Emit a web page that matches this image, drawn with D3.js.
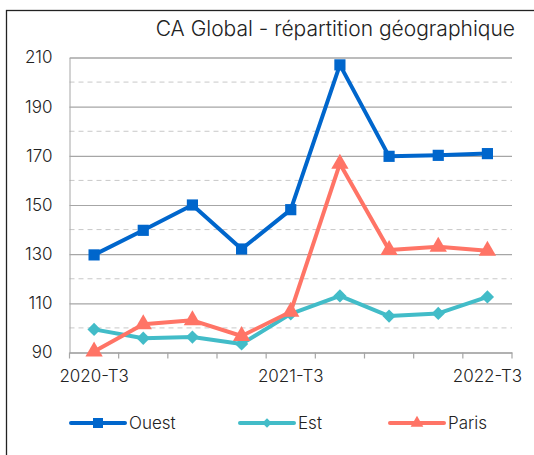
<!DOCTYPE html>
<html>
<head>
<meta charset="utf-8">
<script src="https://cdn.jsdelivr.net/npm/d3@7"></script>
<style>
  body { margin: 0; background: #fff; }
  text { font-family: Inter, "Noto Sans", sans-serif; fill: #222; font-weight: 300; }
</style>
</head>
<body>
<div id="chart"></div>
<script>
const quarters = ["2020-T3", "2020-T4", "2021-T1", "2021-T2", "2021-T3", "2021-T4", "2022-T1", "2022-T2", "2022-T3"];
const ouest = [129.7, 139.7, 150, 132.1, 148.1, 207, 169.8, 170.2, 170.9];
const est = [99.4, 95.8, 96.3, 93.5, 105.7, 113, 104.8, 105.9, 112.6];
const paris = [90.4, 101.5, 103.1, 96.7, 106.6, 166.8, 131.7, 133, 131.4];
const yTicks = [90, 110, 130, 150, 170, 190, 210];
const yMinor = [100, 120, 140, 160, 180, 200];
const xLabels = ["2020-T3", "2021-T3", "2022-T3"];

// diamond = square turned 45 degrees
const series = [
    { name: "Ouest", values: ouest, color: "#0066cc", symbol: d3.symbolSquare, rot: 0, size: 125, legSize: 100 },
    { name: "Est", values: est, color: "#42bcc8", symbol: d3.symbolSquare, rot: 45, size: 88, legSize: 45 },
    { name: "Paris", values: paris, color: "#ff7466", symbol: d3.symbolTriangle, rot: 0, size: 130, legSize: 70 }
];

const W = 534, H = 455;
const margin = { top: 57.5, right: 22, bottom: 102.5, left: 69.5 };
const width = W - margin.left - margin.right;
const height = H - margin.top - margin.bottom;

const svg = d3.select("#chart")
    .append("svg")
    .attr("width", W)
    .attr("height", H);

// outer frame (only top and left visible)
svg.append("rect")
    .attr("x", 6.5).attr("y", 10.5)
    .attr("width", W + 20).attr("height", H + 20)
    .attr("fill", "none")
    .attr("stroke", "#222")
    .attr("stroke-width", 1.3);

svg.append("text")
    .attr("x", 515).attr("y", 36)
    .attr("text-anchor", "end")
    .attr("font-size", 21)
    .text("CA Global - répartition géographique");

const g = svg.append("g")
    .attr("transform", `translate(${margin.left},${margin.top})`);

const x = d3.scaleBand()
    .domain(quarters)
    .range([0, width]);

const y = d3.scaleLinear()
    .domain([90, 210])
    .range([height, 0]);

// dashed minor gridlines
g.append("g")
    .selectAll("line")
    .data(yMinor)
    .enter()
    .append("line")
    .attr("x1", 0).attr("x2", width)
    .attr("y1", d => y(d)).attr("y2", d => y(d))
    .attr("stroke", "#c8c8c8")
    .attr("stroke-dasharray", "5,4");

// y axis with solid gridlines
const yAxis = g.append("g")
    .call(d3.axisLeft(y).tickValues(yTicks).tickSize(-width).tickPadding(17));
yAxis.select(".domain").attr("stroke", "#a6a6a6");
yAxis.selectAll(".tick line").attr("stroke", "#a6a6a6").attr("stroke-width", 1.2);
yAxis.selectAll(".tick text").attr("font-size", 17).attr("fill", "#222")
    .attr("font-family", "Inter, 'Noto Sans', sans-serif");

// x axis
const xAxis = g.append("g")
    .attr("transform", `translate(0,${height})`)
    .call(d3.axisBottom(x).tickValues([]).tickSizeOuter(0));
xAxis.select(".domain").attr("stroke", "#a6a6a6").attr("stroke-width", 1.2);

// band boundary ticks
xAxis.selectAll("line.bt")
    .data(d3.range(quarters.length + 1))
    .enter()
    .append("line")
    .attr("class", "bt")
    .attr("x1", i => i * x.bandwidth()).attr("x2", i => i * x.bandwidth())
    .attr("y1", 0).attr("y2", 6)
    .attr("stroke", "#a6a6a6")
    .attr("stroke-width", 1.2);

xAxis.selectAll("text.xl")
    .data(xLabels)
    .enter()
    .append("text")
    .attr("class", "xl")
    .attr("x", d => x(d) + x.bandwidth() / 2)
    .attr("y", 29)
    .attr("text-anchor", "middle")
    .attr("font-size", 17)
    .text(d => d);

const line = d3.line()
    .x((d, i) => x(quarters[i]) + x.bandwidth() / 2)
    .y(d => y(d));

series.forEach(s => {
    g.append("path")
        .datum(s.values)
        .attr("fill", "none")
        .attr("stroke", s.color)
        .attr("stroke-width", 4)
        .attr("stroke-linejoin", "round")
        .attr("d", line);

    g.append("g")
        .selectAll("path")
        .data(s.values)
        .enter()
        .append("path")
        .attr("transform", (d, i) => `translate(${x(quarters[i]) + x.bandwidth() / 2},${y(d)}) rotate(${s.rot})`)
        .attr("d", d3.symbol().type(s.symbol).size(s.size))
        .attr("fill", s.color);
});

// legend
const legX = [71, 240, 390];
const legend = svg.append("g").attr("transform", "translate(0,423)");
series.forEach((s, i) => {
    const lg = legend.append("g").attr("transform", `translate(${legX[i]},0)`);
    lg.append("line")
        .attr("x1", 0).attr("x2", 54)
        .attr("stroke", s.color)
        .attr("stroke-width", 4)
        .attr("stroke-linecap", "round");
    lg.append("path")
        .attr("transform", `translate(27,0) rotate(${s.rot})`)
        .attr("d", d3.symbol().type(s.symbol).size(s.legSize))
        .attr("fill", s.color);
    lg.append("text")
        .attr("x", 58)
        .attr("y", 6)
        .attr("font-size", 17)
        .text(s.name);
});
</script>
</body>
</html>
